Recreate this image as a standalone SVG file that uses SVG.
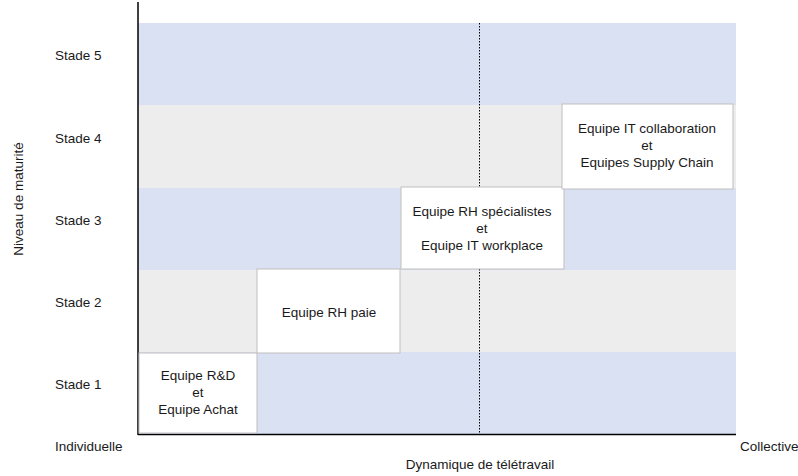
<svg xmlns="http://www.w3.org/2000/svg" width="798" height="476" viewBox="0 0 798 476">
<style>
text{font-family:"Liberation Sans",Arial,sans-serif;font-size:13.5px;fill:#1a1a1a}
.blue{fill:#DAE1F3}
.gray{fill:#EDEDED}
.box{fill:#FFFFFF;stroke:#BFBFBF;stroke-width:1}
.c{text-anchor:middle}
</style>
<g id="bands">
<rect class="blue" x="138" y="23" width="598" height="82"/>
<rect class="gray" x="138" y="105" width="598" height="83"/>
<rect class="blue" x="138" y="188" width="598" height="82"/>
<rect class="gray" x="138" y="270" width="598" height="82"/>
<rect class="blue" x="138" y="352" width="598" height="82"/>
</g>
<g id="connectors">
<line x1="479.5" y1="23" x2="479.5" y2="434" stroke="#000" stroke-width="1" stroke-dasharray="1.5,1.5"/>
<line x1="138" y1="2" x2="138" y2="435" stroke="#000" stroke-width="1.5"/>
<line x1="138" y1="434.5" x2="736" y2="434.5" stroke="#000" stroke-width="1.5"/>
</g>
<g id="labels">
<text x="55" y="60">Stade 5</text>
<text x="55" y="143">Stade 4</text>
<text x="55" y="225">Stade 3</text>
<text x="55" y="307">Stade 2</text>
<text x="55" y="389">Stade 1</text>
<text class="c" transform="translate(23,199) rotate(-90)">Niveau de maturité</text>
<text x="55" y="451">Individuelle</text>
<text x="740" y="451">Collective</text>
<text class="c" x="480" y="469">Dynamique de télétravail</text>
</g>
<g id="node-rd">
<rect class="box" x="139" y="353" width="118" height="80"/>
<text class="c" x="198" y="380">Equipe R&amp;D</text>
<text class="c" x="198" y="397">et</text>
<text class="c" x="198" y="414">Equipe Achat</text>
</g>
<g id="node-rhpaie">
<rect class="box" x="257" y="269" width="143" height="84"/>
<text class="c" x="329" y="317">Equipe RH paie</text>
</g>
<g id="node-rhspec">
<rect class="box" x="401" y="187" width="163" height="82"/>
<text class="c" x="482" y="216">Equipe RH spécialistes</text>
<text class="c" x="482" y="233">et</text>
<text class="c" x="482" y="250">Equipe IT workplace</text>
</g>
<g id="node-itcollab">
<rect class="box" x="562" y="104" width="171" height="85"/>
<text class="c" x="647" y="133">Equipe IT collaboration</text>
<text class="c" x="647" y="150">et</text>
<text class="c" x="647" y="167">Equipes Supply Chain</text>
</g>
</svg>
